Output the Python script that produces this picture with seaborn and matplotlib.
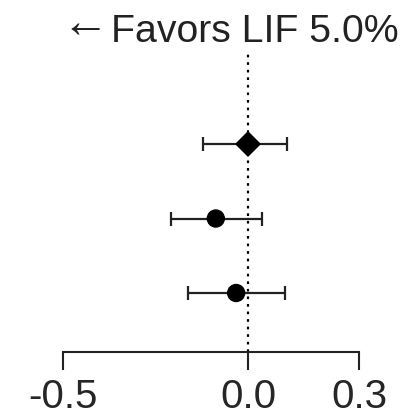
import matplotlib
matplotlib.use("Agg")
import matplotlib.pyplot as plt
import seaborn as sns
import pandas as pd

rows = ["A", "B", "C"]
estimates = [0.0, -0.087, -0.032]
ci_low = [-0.122, -0.209, -0.161]
ci_high = [0.105, 0.037, 0.100]
marker_kind = ["diamond", "circle", "circle"]
x_ticks = [-0.5, 0.0, 0.3]
x_tick_labels = ["-0.5", "0.0", "0.3"]
title_arrow = "\u2190"
title = "Favors LIF 5.0%"

sns.set_style("white")
plt.rcParams['font.family'] = ['Liberation Sans', 'DejaVu Sans']

df = pd.DataFrame({"row": rows, "est": estimates, "lo": ci_low, "hi": ci_high,
                   "kind": marker_kind})
df["ypos"] = [3, 2, 1]

W, H = 417, 415
fig = plt.figure(figsize=(W / 100, H / 100), dpi=100)
ax = fig.add_axes([20 / W, (H - 352) / H, 380 / W, 302 / H])

ax.axvline(0, color="black", linestyle=(0, (1.2, 2.2)), linewidth=1.6, zorder=1)
ax.errorbar(df["est"], df["ypos"],
            xerr=[df["est"] - df["lo"], df["hi"] - df["est"]],
            fmt="none", ecolor="#222222", elinewidth=1.6, capsize=5, capthick=1.6, zorder=2)
sns.scatterplot(data=df, x="est", y="ypos", style="kind",
                markers={"diamond": "D", "circle": "o"}, s=150, color="black",
                edgecolor="black", legend=False, ax=ax, zorder=3)

ax.set_xlim(-0.6162, 0.4108)
ax.set_ylim(0.208, 4.262)
ax.set_xticks(x_ticks)
ax.set_xticklabels(x_tick_labels, fontsize=29)
ax.set_yticks([])
ax.set_xlabel("")
ax.set_ylabel("")
for s in ["top", "right", "left"]:
    ax.spines[s].set_visible(False)
ax.spines["bottom"].set_bounds(-0.5, 0.3)
ax.spines["bottom"].set_linewidth(1.5)
ax.spines["bottom"].set_color("#222222")
ax.tick_params(axis="x", length=13, width=1.5, color="#222222", pad=6, bottom=True)

fig.text(254.5 / W, 1 - 42 / H, title, ha="center", va="baseline", fontsize=28.3, color="#222222")
fig.text(85 / W, 1 - 25 / H, title_arrow, ha="center", va="center", fontsize=34,
         color="#222222", family=["Liberation Sans", "DejaVu Sans"])

fig.savefig("out.png", dpi=100, facecolor="white")
